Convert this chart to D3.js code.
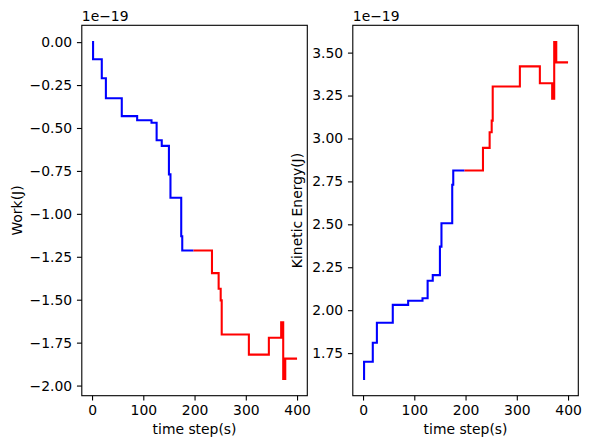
<!DOCTYPE html>
<html lang="en">

<head>
    <meta charset="UTF-8">
    <title>Work and Kinetic Energy</title>
    <script src="https://d3js.org/d3.v7.min.js"></script>
    <style>
        body {
            margin: 0;
            padding: 0;
            background: #fff;
            overflow: hidden;
        }

        text {
            font-family: "DejaVu Sans", sans-serif;
        }
    </style>
</head>

<body>
<script>
    // time steps where the value changes (blue part, then red part)
    const stepTimesBlue = [0, 2, 19, 27, 58, 88, 116, 126, 136, 150, 153, 174, 176, 198];
    const stepTimesRed = [198, 234, 247, 251, 253, 306, 345, 369, 373, 377, 400];

    // work (units of 1e-19 J)
    const workBlue = [0.00, -0.10, -0.21, -0.327, -0.431, -0.455, -0.469, -0.571, -0.604, -0.77, -0.906, -1.13, -1.213, -1.213];
    const workRed = [-1.213, -1.345, -1.436, -1.504, -1.703, -1.82, -1.722, -1.631, -1.961, -1.843, -1.843];

    // kinetic energy (units of 1e-19 J)
    const keBlue = [1.60, 1.70, 1.81, 1.927, 2.031, 2.055, 2.069, 2.171, 2.204, 2.37, 2.506, 2.73, 2.813, 2.813];
    const keRed = [2.813, 2.945, 3.036, 3.104, 3.303, 3.42, 3.322, 3.231, 3.561, 3.443, 3.443];

    const xTicks = [0, 100, 200, 300, 400];
    const workTicks = [0.00, -0.25, -0.50, -0.75, -1.00, -1.25, -1.50, -1.75, -2.00];
    const keTicks = [1.75, 2.00, 2.25, 2.50, 2.75, 3.00, 3.25, 3.50];

    const width = 591;
    const height = 448;
    const fontSize = 13.9;
    const plotTop = 25.3, plotBottom = 395.7;

    const svg = d3.select("body").append("svg")
        .attr("width", width)
        .attr("height", height);

    function drawPanel(left, right, blueVals, redVals, yTicks, yLabel, yLabelX) {
        const g = svg.append("g");

        const x = d3.scaleLinear().domain([-20, 420]).range([left, right]);

        // 5% margin like matplotlib autoscale
        const all = blueVals.concat(redVals);
        const [lo, hi] = d3.extent(all);
        const pad = (hi - lo) * 0.05;
        const y = d3.scaleLinear().domain([lo - pad, hi + pad]).range([plotBottom, plotTop]);

        const line = d3.line()
            .x(d => x(d[0]))
            .y(d => y(d[1]))
            .curve(d3.curveStepAfter);

        g.append("path")
            .datum(stepTimesBlue.map((t, i) => [t, blueVals[i]]))
            .attr("d", line)
            .attr("fill", "none")
            .attr("stroke", "#0000ff")
            .attr("stroke-width", 2.08);

        g.append("path")
            .datum(stepTimesRed.map((t, i) => [t, redVals[i]]))
            .attr("d", line)
            .attr("fill", "none")
            .attr("stroke", "#ff0000")
            .attr("stroke-width", 2.08);

        // axes
        const xAxis = g.append("g")
            .attr("transform", `translate(0,${plotBottom})`)
            .call(d3.axisBottom(x).tickValues(xTicks).tickSize(4.86).tickPadding(4.86).tickSizeOuter(0));

        const yAxis = g.append("g")
            .attr("transform", `translate(${left},0)`)
            .call(d3.axisLeft(y).tickValues(yTicks).tickFormat(d3.format(".2f"))
                .tickSize(4.86).tickPadding(4.86).tickSizeOuter(0));

        [xAxis, yAxis].forEach(a => {
            a.attr("font-family", "DejaVu Sans, sans-serif").attr("font-size", fontSize);
            a.select(".domain").remove();
            a.selectAll("line").attr("stroke", "#000").attr("stroke-width", 1.1);
            a.selectAll("text").attr("fill", "#000");
        });

        // frame
        g.append("rect")
            .attr("x", left)
            .attr("y", plotTop)
            .attr("width", right - left)
            .attr("height", plotBottom - plotTop)
            .attr("fill", "none")
            .attr("stroke", "#000")
            .attr("stroke-width", 1.1);

        // offset text
        g.append("text")
            .attr("x", left)
            .attr("y", 21)
            .attr("font-size", fontSize)
            .text("1e\u221219");

        g.append("text")
            .attr("x", (left + right) / 2)
            .attr("y", 434)
            .attr("text-anchor", "middle")
            .attr("font-size", fontSize)
            .text("time step(s)");

        g.append("text")
            .attr("transform", `translate(${yLabelX},${(plotTop + plotBottom) / 2}) rotate(-90)`)
            .attr("text-anchor", "middle")
            .attr("font-size", fontSize)
            .text(yLabel);
    }

    drawPanel(81.8, 307.3, workBlue, workRed, workTicks, "Work(J)", 22);
    drawPanel(352.8, 578.3, keBlue, keRed, keTicks, "Kinetic Energy(J)", 302);
</script>
</body>

</html>
